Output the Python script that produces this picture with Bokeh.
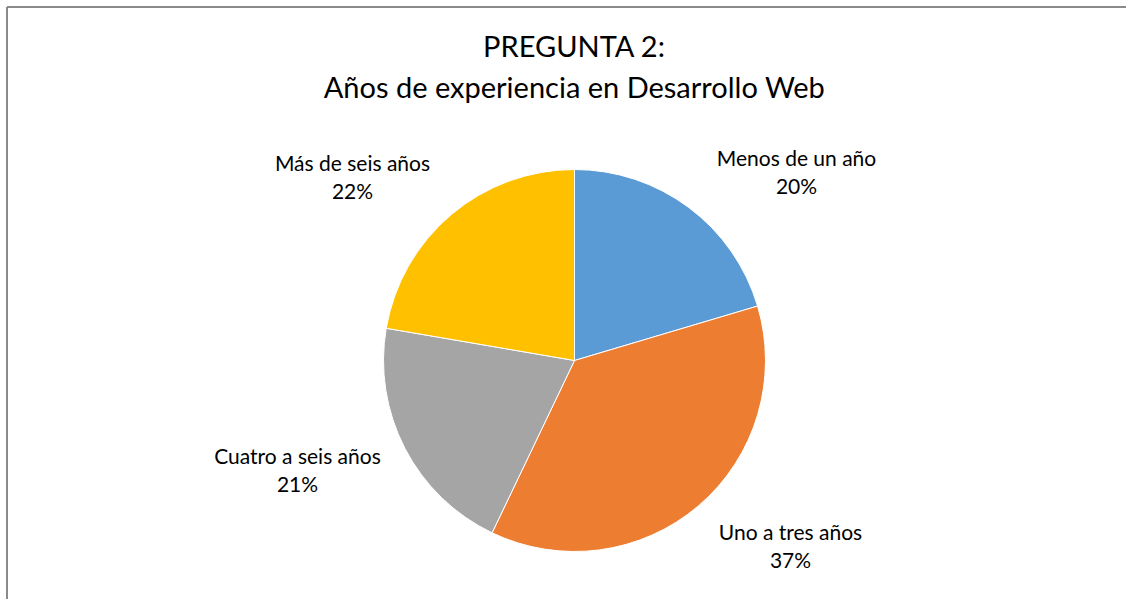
import math
from bokeh.plotting import figure
from bokeh.models import Range1d, ColumnDataSource
from bokeh.core.properties import value
from bokeh.embed import file_html
from bokeh.resources import INLINE

# ---- data ----
categories = ["Menos de un año", "Uno a tres años", "Cuatro a seis años", "Más de seis años"]
shares = [20.4, 36.7, 20.6, 22.3]
colors = ["#5B9BD5", "#ED7D31", "#A5A5A5", "#FFC000"]
title_lines = ["PREGUNTA 2:", "Años de experiencia en Desarrollo Web"]

# ---- layout (pixels, screen coordinates) ----
W, H = 1126, 599
def px(sx):
    return sx
def py(sy):
    return H - sy

center_x, center_y, radius = 574, 360, 191
label_pos = [(796, 157), (790, 531), (297, 455), (352, 162)]
line_gap = 28
title_pos = [(574, 45), (574, 86)]
FONT = "Lato"

total = sum(shares)
starts, ends, pcts = [], [], []
cum = 0.0
for s in shares:
    starts.append(math.pi / 2 - cum / total * 2 * math.pi)
    cum += s
    ends.append(math.pi / 2 - cum / total * 2 * math.pi)
    pcts.append(f"{round(s / total * 100)}%")

p = figure(width=W, height=H, output_backend="svg", toolbar_location=None,
           x_range=Range1d(0, W), y_range=Range1d(0, H), min_border=0,
           border_fill_color="white", background_fill_color="white")
p.axis.visible = False
p.grid.visible = False
p.outline_line_color = None
p.outline_line_alpha = 0

# chart border (left and top visible)
p.line([px(6.5), px(6.5)], [py(6.5), 0], line_color="#8a8a8a", line_width=2)
p.line([px(6.5), W], [py(6.5), py(6.5)], line_color="#8a8a8a", line_width=2)

src = ColumnDataSource(dict(start=starts, end=ends, color=colors))
p.wedge(x=px(center_x), y=py(center_y), radius=radius, radius_units="screen",
        start_angle="start", end_angle="end", direction="clock",
        fill_color="color", line_color="white", line_width=1, source=src)

# title
p.text(x=[px(a) for a, b in title_pos], y=[py(b) for a, b in title_pos], text=title_lines,
       text_font=value(FONT), text_font_size="29px", text_color="#000000",
       text_align="center", text_baseline="middle")

# labels
lx = [px(a) for a, b in label_pos]
ly1 = [py(b) for a, b in label_pos]
ly2 = [py(b + line_gap) for a, b in label_pos]
p.text(x=lx, y=ly1, text=categories, text_font=value(FONT), text_font_size="21px",
       text_color="#000000", text_align="center", text_baseline="middle")
p.text(x=lx, y=ly2, text=pcts, text_font=value(FONT), text_font_size="21px",
       text_color="#000000", text_align="center", text_baseline="middle")

open("out.html", "w").write(file_html(p, INLINE))
